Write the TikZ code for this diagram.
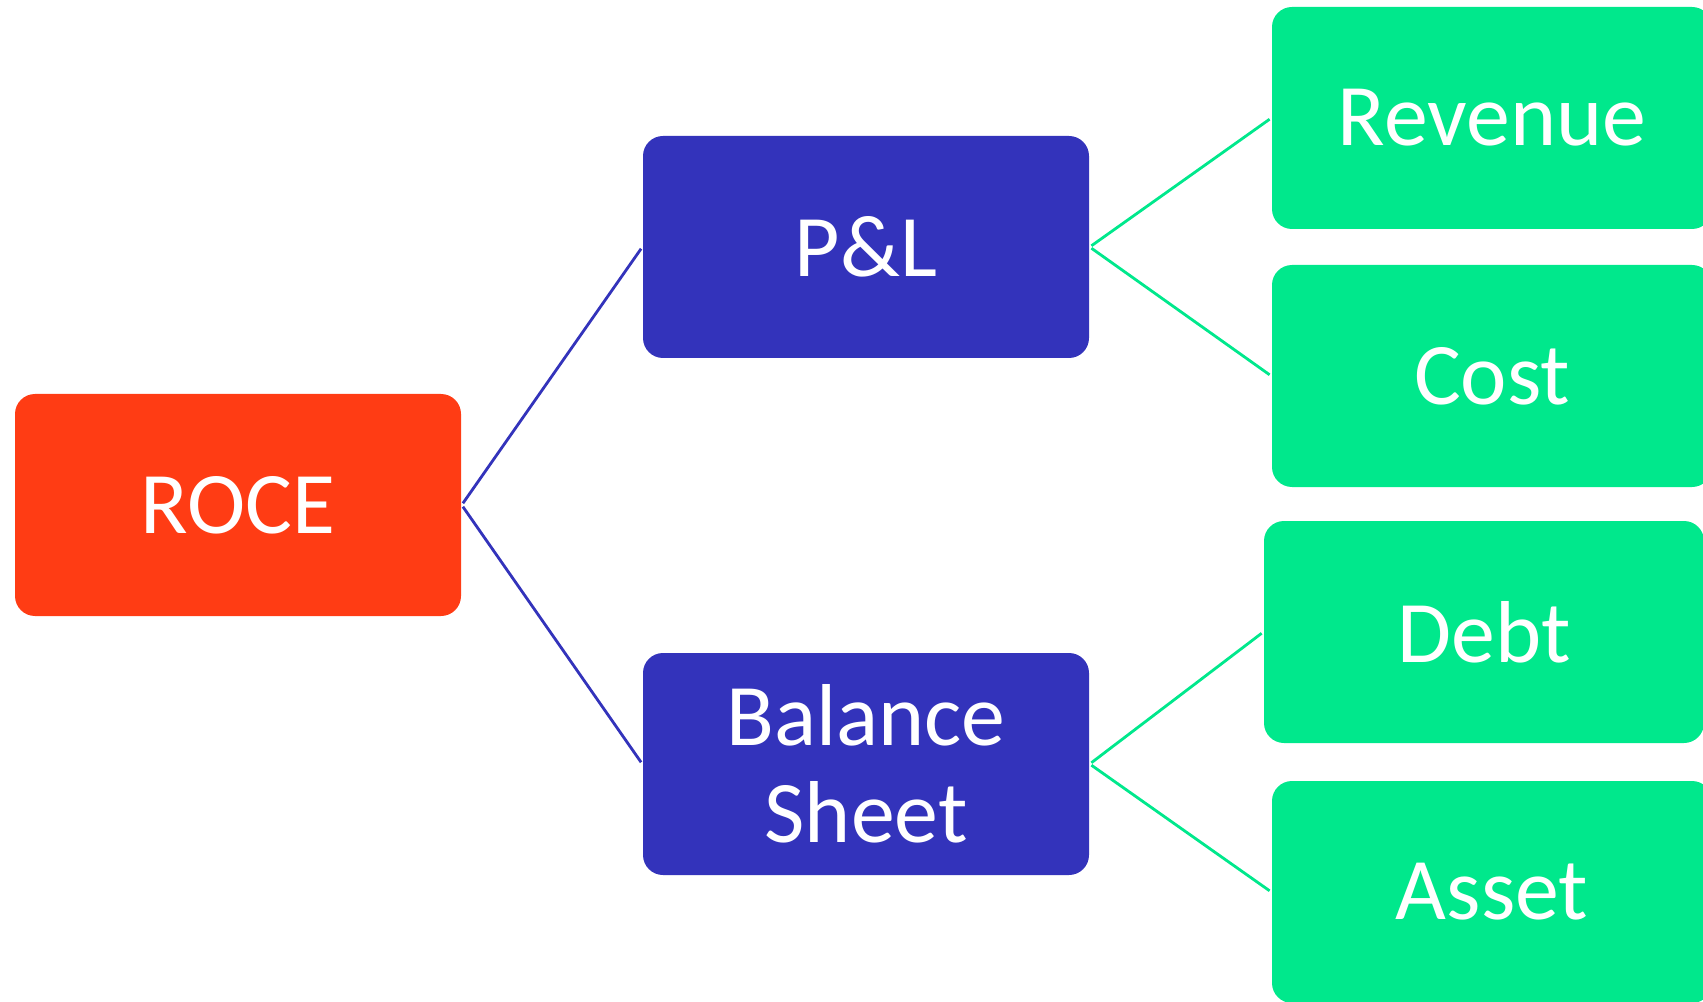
\documentclass[tikz,border=0pt]{standalone}
\usepackage{fontspec}
\setmainfont{Carlito}
\definecolor{roceorange}{HTML}{FF3C14}
\definecolor{midblue}{HTML}{3333BB}
\definecolor{leafgreen}{HTML}{00E88C}
\begin{document}
\begin{tikzpicture}[
        box/.style={rounded corners=0.2cm, minimum width=4.46cm, minimum height=2.22cm,
            inner sep=0pt, text=white, align=center, font=\fontsize{25}{27.5}\selectfont},
        rootbox/.style={box, fill=roceorange},
        midbox/.style={box, fill=midblue},
        leafbox/.style={box, fill=leafgreen, minimum width=4.40cm},
        link/.style={line width=0.8pt, shorten <=0.6pt, shorten >=0.6pt}
    ]
        \useasboundingbox (0,0) rectangle (17.03,10.01);
        \node[rootbox] (roce) at (2.38,4.96) {ROCE};
        \node[midbox] (pl) at (8.66,7.54) {P\&L};
        \node[midbox] (bs) at (8.66,2.37) {Balance\\Sheet};
        \node[leafbox] (rev) at (14.92,8.83) {Revenue};
        \node[leafbox] (cost) at (14.92,6.25) {Cost};
        \node[leafbox] (debt) at (14.84,3.69) {Debt};
        \node[leafbox] (asset) at (14.92,1.09) {Asset};
        \foreach \p in {pl,bs} {
            \draw[link, midblue] (roce.east) -- (\p.west);
        }
        \foreach \a/\b in {pl/rev,pl/cost,bs/debt,bs/asset} {
            \draw[link, leafgreen] (\a.east) -- (\b.west);
        }
    \end{tikzpicture}
\end{document}
